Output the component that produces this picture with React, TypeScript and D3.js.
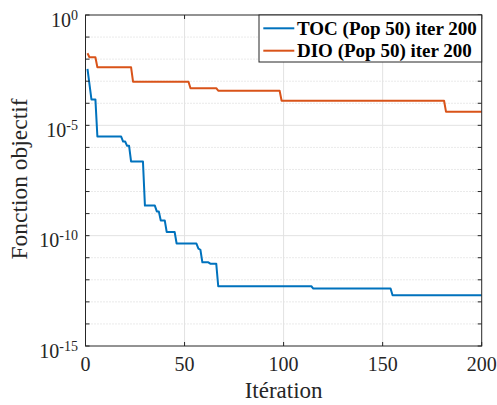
import React from "react";
import * as d3 from "d3";

const tocIter = [1, 3, 5, 6, 18, 19, 20, 21, 22, 23, 29, 30, 35, 36, 37, 38, 40, 41, 45, 46, 56, 57, 58, 59, 62, 63, 66, 67, 114, 115, 154, 155, 200];
const tocValue = [3.6e-3, 1.5e-4, 1.5e-4, 3.1e-6, 3.1e-6, 1.85e-6, 1.85e-6, 1.18e-6, 1.18e-6, 2.3e-7, 2.3e-7, 2.3e-9, 2.3e-9, 1.26e-9, 1.26e-9, 4.9e-10, 4.9e-10, 1.47e-10, 1.47e-10, 4.4e-11, 4.4e-11, 2.6e-11, 2.3e-11, 6.2e-12, 6.2e-12, 5.4e-12, 5.4e-12, 5.1e-13, 5.1e-13, 4.0e-13, 4.0e-13, 2.0e-13, 2.0e-13];

const dioIter = [1, 2, 5, 6, 23, 24, 52, 53, 66, 67, 98, 99, 181, 182, 200];
const dioValue = [0.0186, 0.0122, 0.0122, 0.0043, 0.0043, 9.5e-4, 9.5e-4, 4.8e-4, 4.8e-4, 3.7e-4, 3.7e-4, 1.3e-4, 1.3e-4, 4.1e-5, 4.1e-5];

const xTicks = [0, 50, 100, 150, 200];
const yMajorExp = [0, -5, -10, -15];
const yAllExp = d3.range(0, -16, -1);
const seriesNames = ["TOC (Pop 50) iter 200", "DIO (Pop 50) iter 200"];
const seriesColors = ["#0072BD", "#D95319"];

const W = 497, H = 405;
const L = 85.5, R = 481.7, T = 15, B = 346;
const font = "'Liberation Serif', 'Times New Roman', serif";
const axisColor = "#262626";

export default function App() {
  const x = d3.scaleLinear().domain([0, 200]).range([L, R]);
  const y = d3.scaleLog().domain([1e-15, 1]).range([B, T]);
  const line = d3.line<[number, number]>().x((d) => x(d[0])).y((d) => y(d[1]));
  const toc = tocIter.map((v, i) => [v, tocValue[i]] as [number, number]);
  const dio = dioIter.map((v, i) => [v, dioValue[i]] as [number, number]);
  const series = [toc, dio];

  return (
    <svg width={W} height={H} style={{ position: "absolute", left: 0, top: 0, background: "#fff" }} fontFamily={font}>
      <rect x={0} y={0} width={W} height={H} fill="#fff" />
      {/* minor grid */}
      {yAllExp.filter((e) => !yMajorExp.includes(e)).map((e) => (
        <line key={"mg" + e} x1={L} x2={R} y1={y(Math.pow(10, e))} y2={y(Math.pow(10, e))} stroke="#d4d4d4" strokeWidth={1} strokeDasharray="1,2" />
      ))}
      {/* major grid */}
      {yMajorExp.filter((e) => e !== 0 && e !== -15).map((e) => (
        <line key={"yg" + e} x1={L} x2={R} y1={y(Math.pow(10, e))} y2={y(Math.pow(10, e))} stroke="#e2e2e2" strokeWidth={1} />
      ))}
      {xTicks.filter((t) => t !== 0 && t !== 200).map((t) => (
        <line key={"xg" + t} x1={x(t)} x2={x(t)} y1={T} y2={B} stroke="#e2e2e2" strokeWidth={1} />
      ))}
      {/* series */}
      {series.map((s, i) => (
        <path key={"s" + i} d={line(s) || ""} fill="none" stroke={seriesColors[i]} strokeWidth={2} strokeLinejoin="round" />
      ))}
      {/* axes box */}
      <rect x={L} y={T} width={R - L} height={B - T} fill="none" stroke={axisColor} strokeWidth={1} />
      {/* ticks */}
      {xTicks.map((t) => (
        <g key={"xt" + t}>
          <line x1={x(t)} x2={x(t)} y1={B} y2={B - 4} stroke={axisColor} />
          <line x1={x(t)} x2={x(t)} y1={T} y2={T + 4} stroke={axisColor} />
          <text x={x(t)} y={371} textAnchor="middle" fontSize={20} fill={axisColor}>{t}</text>
        </g>
      ))}
      {yAllExp.map((e) => (
        <g key={"yt" + e}>
          <line x1={L} x2={L + 4} y1={y(Math.pow(10, e))} y2={y(Math.pow(10, e))} stroke={axisColor} />
          <line x1={R} x2={R - 4} y1={y(Math.pow(10, e))} y2={y(Math.pow(10, e))} stroke={axisColor} />
        </g>
      ))}
      {yMajorExp.map((e) => (
        <text key={"yl" + e} x={78} y={y(Math.pow(10, e)) + 11.5} textAnchor="end" fontSize={20} fill={axisColor}>
          <tspan>10</tspan>
          <tspan dy={-7} fontSize={14}>{String(e)}</tspan>
        </text>
      ))}
      {/* axis labels */}
      <text x={(L + R) / 2} y={398} textAnchor="middle" fontSize={23} fill={axisColor}>Itération</text>
      <text transform={`translate(26.5, ${(T + B) / 2 - 1.5}) rotate(-90)`} textAnchor="middle" fontSize={23.5} fill={axisColor}>Fonction objectif</text>
      {/* legend */}
      <rect x={259} y={15} width={R - 259} height={47} fill="#fff" stroke={axisColor} strokeWidth={1} />
      {seriesNames.map((n, i) => (
        <g key={"lg" + i}>
          <line x1={263.3} x2={294.3} y1={28.3 + i * 22.4} y2={28.3 + i * 22.4} stroke={seriesColors[i]} strokeWidth={2} />
          <text x={297} y={28.3 + i * 22.4 + 6.5} fontSize={19} fontWeight="bold" fill="#000">{n}</text>
        </g>
      ))}
    </svg>
  );
}
